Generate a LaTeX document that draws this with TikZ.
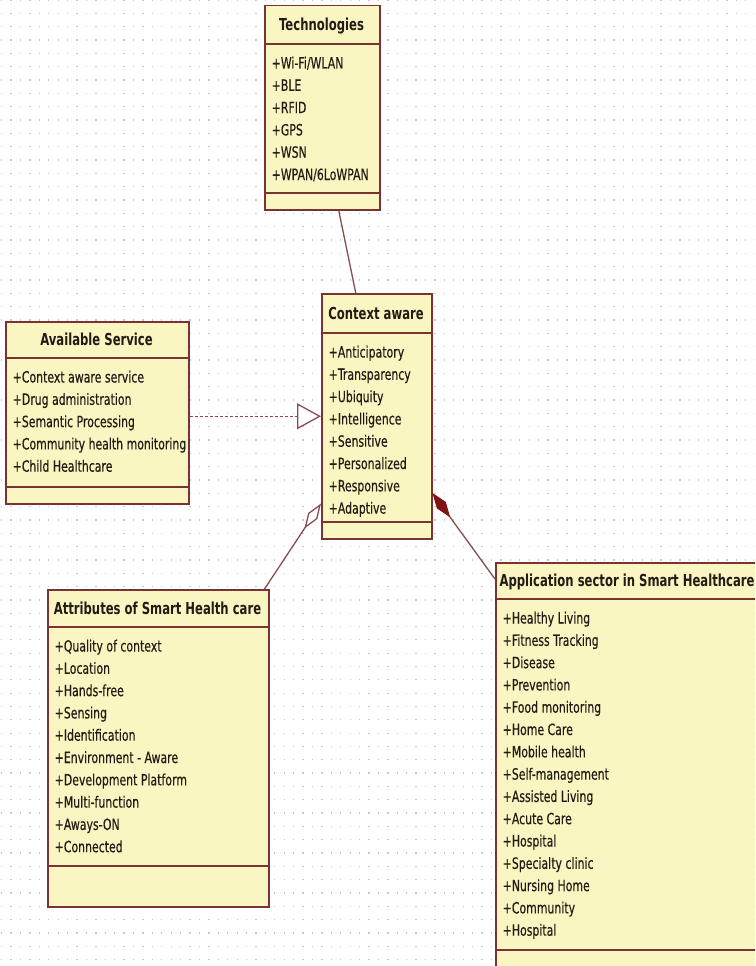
\documentclass[tikz,border=0pt]{standalone}
\usepackage{fontspec}
\newfontfamily\umlfont[FakeStretch=0.705]{DejaVu Sans}
\newfontfamily\umlitemfont[FakeStretch=0.705, FakeBold=0.35]{DejaVu Sans}
\usetikzlibrary{arrows.meta}

\definecolor{umlfill}{RGB}{250,246,193}
\definecolor{umlline}{RGB}{122,50,50}
\definecolor{linkcol}{RGB}{138,76,80}
\definecolor{diamondred}{RGB}{128,18,18}
\definecolor{griddot}{RGB}{200,200,200}
\definecolor{inkcol}{RGB}{34,28,22}

\tikzset{
  umlbox/.style={draw=umlline, line width=1.5pt, fill=umlfill, rectangle,
    inner sep=0pt, anchor=north west},
  sepline/.style={draw=umlline, line width=1.5pt},
  titletext/.style={font=\umlfont\bfseries\fontsize{16.5}{19}\selectfont,
    text=inkcol, inner sep=0pt, anchor=base},
  itemtext/.style={font=\umlitemfont\fontsize{15.5}{18}\selectfont,
    text=inkcol, inner sep=0pt, anchor=base west},
  griddots/.style={draw=griddot, line width=1.3pt, dash pattern=on 1.3pt off 8.12pt},
  link/.style={draw=linkcol, line width=1.3pt},
  realize/.style={link, dash pattern=on 3pt off 2pt,
    -{Triangle[length=24pt, width=26pt, fill=white, line width=1.3pt]}},
  aggregate/.style={link,
    -{Diamond[length=30pt, width=11pt, fill=white, line width=1.3pt]}},
  compose/.style={link,
    -{Diamond[length=30pt, width=11pt, fill=diamondred, color=diamondred, line width=1pt]}},
}

% class box: name, left, top, right, title separator, lower separator, bottom, title, items
\newcommand\classbox[9]{%
  \node[umlbox, minimum width={(#4-#2)*1pt}, minimum height={(#7-#3)*1pt}] (#1) at (#2,#3) {};
  \draw[sepline] (#2,#5) -- (#4,#5);
  \draw[sepline] (#2,#6) -- (#4,#6);
  \node[titletext] (#1-title) at ({(#2+#4)/2}, {(#3+#5)/2+6}) {#8};
  \foreach \t [count=\i from 0] in {#9}
    \node[itemtext] (#1-item\i) at (#2+7.5, #5+24.5+22.3*\i) {\t};
}

\begin{document}
\begin{tikzpicture}[x=1pt, y=-1pt]
  \useasboundingbox (0,0) rectangle (755,966);
  \clip (0,0) rectangle (755,966);
  \fill[white] (0,0) rectangle (755,966);

  % dotted drawing grid
  \foreach \k in {0,...,73}
    \draw[griddots] (1,13.33*\k) -- (755,13.33*\k);

  \classbox{tech}{264}{5}{379}{44}{193}{209}{Technologies}
    {+Wi-Fi/WLAN,+BLE,+RFID,+GPS,+WSN,+WPAN/6LoWPAN}

  \classbox{ctx}{321}{293}{431}{333}{522}{538}{Context aware}
    {+Anticipatory,+Transparency,+Ubiquity,+Intelligence,+Sensitive,+Personalized,+Responsive,+Adaptive}

  \classbox{avail}{5}{321}{188}{358}{487}{503}{Available Service}
    {+Context aware service,+Drug administration,+Semantic Processing,+Community health monitoring,+Child Healthcare}

  \classbox{attr}{47}{589}{268}{627}{866}{906}{Attributes of Smart Health care}
    {+Quality of context,+Location,+Hands-free,+Sensing,+Identification,+Environment - Aware,+Development Platform,+Multi-function,+Aways-ON,+Connected}

  \classbox{app}{495}{562}{759}{599}{950}{990}{Application sector in Smart Healthcare}
    {+Healthy Living,+Fitness Tracking,+Disease,+Prevention,+Food monitoring,+Home Care,+Mobile health,+Self-management,+Assisted Living,+Acute Care,+Hospital,+Specialty clinic,+Nursing Home,+Community,+Hospital}

  % associations
  \draw[link] ([xshift=16.5pt]tech.south) -- ([xshift=-21pt]ctx.north);
  \draw[realize] (avail.east |- ctx.west) -- (ctx.west);
  \draw[aggregate] ([xshift=-5pt]attr.north east) -- ([yshift=36pt]ctx.south west);
  \draw[compose] ([yshift=-17pt]app.north west) -- ([yshift=-200pt]ctx.north east);
\end{tikzpicture}
\end{document}
